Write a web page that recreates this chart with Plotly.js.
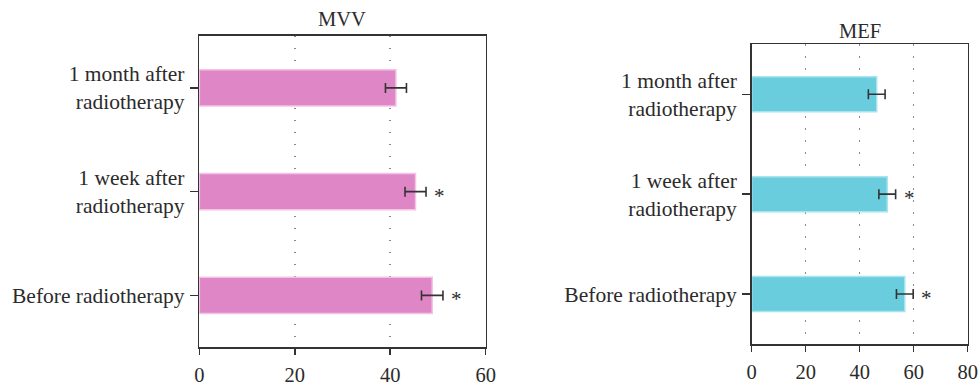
<!DOCTYPE html>
<html>
<head>
<meta charset="utf-8">
<script src="https://cdn.plot.ly/plotly-3.0.1.min.js"></script>
<style>
  html, body { margin: 0; padding: 0; background: #fff; }
  #chart { width: 979px; height: 390px; }
</style>
</head>
<body>
<div id="chart"></div>
<script>
// Time points, bottom to top
const categories = ['Before radiotherapy', '1 week after<br>radiotherapy', '1 month after<br>radiotherapy'];

// MVV panel
const mvvMean = [48.8, 45.3, 41.2];
const mvvErr  = [2.25, 2.2, 2.2];
const mvvSig  = [true, true, false];

// MEF panel
const mefMean = [56.7, 50.2, 46.3];
const mefErr  = [3.1, 3.1, 3.1];
const mefSig  = [true, true, false];

const FONT = '"Liberation Serif", "DejaVu Serif", serif';
const INK = '#2b2b2b';

function barTrace(values, errors, fill, edge, xa, ya) {
  return {
    type: 'bar', orientation: 'h',
    y: categories, x: values,
    width: 0.35,
    marker: { color: fill, line: { color: edge, width: 1.5 } },
    error_x: { type: 'data', array: errors, visible: true, color: '#333', thickness: 1.6, width: 5 },
    xaxis: xa, yaxis: ya,
    hoverinfo: 'skip', showlegend: false
  };
}

function starNotes(values, errors, sig, xa, ya) {
  const notes = [];
  values.forEach((v, i) => {
    if (!sig[i]) return;
    notes.push({
      x: v + errors[i], y: categories[i], xref: xa, yref: ya,
      text: '*', showarrow: false, xanchor: 'left', yanchor: 'middle',
      xshift: 6, yshift: -4,
      font: { family: FONT, size: 21, color: INK }
    });
  });
  return notes;
}

function xAxis(domain, anchor, range, tickvals) {
  return {
    domain: domain, anchor: anchor, range: range,
    tickvals: tickvals, ticks: 'outside', ticklen: 6, tickwidth: 1.5, tickcolor: '#333',
    ticklabelstandoff: 3,
    showline: true, linecolor: '#333', linewidth: 1.5, mirror: true,
    showgrid: true, gridcolor: '#8a8a8a', gridwidth: 1.5, griddash: '1.5px,10.5px',
    zeroline: false, fixedrange: true,
    tickfont: { family: FONT, size: 20.5, color: INK }
  };
}

function yAxis(domain, anchor) {
  return {
    domain: domain, anchor: anchor, type: 'category',
    categoryorder: 'array', categoryarray: categories,
    range: [-0.5, 2.5],
    ticks: 'outside', ticklen: 8, tickwidth: 1.5, tickcolor: '#333',
    ticklabelstandoff: 1,
    showline: true, linecolor: '#333', linewidth: 1.5, mirror: true,
    showgrid: false, zeroline: false, fixedrange: true,
    tickfont: { family: FONT, size: 21.5, color: INK }
  };
}

const data = [
  barTrace(mvvMean, mvvErr, '#DF87C6', '#F3C3E6', 'x', 'y'),
  barTrace(mefMean, mefErr, '#6ACDDE', '#A9E4EE', 'x2', 'y2')
];

const layout = {
  width: 979, height: 390,
  margin: { l: 0, r: 0, t: 0, b: 0 },
  paper_bgcolor: '#fff', plot_bgcolor: '#fff',
  bargap: 0,
  xaxis:  xAxis([0.2036, 0.4961], 'y',  [0, 60], [0, 20, 40, 60]),
  yaxis:  yAxis([0.1095, 0.9077], 'x'),
  xaxis2: xAxis([0.7678, 0.9885], 'y2', [0, 80], [0, 20, 40, 60, 80]),
  yaxis2: yAxis([0.1179, 0.8864], 'x2'),
  annotations: [
    { text: 'MVV', xref: 'paper', yref: 'paper', x: 0.3498, y: 1 - 19 / 390,
      xanchor: 'center', yanchor: 'middle', showarrow: false,
      font: { family: FONT, size: 20.5, color: INK } },
    { text: 'MEF', xref: 'paper', yref: 'paper', x: 0.8782, y: 1 - 31 / 390,
      xanchor: 'center', yanchor: 'middle', showarrow: false,
      font: { family: FONT, size: 20.5, color: INK } }
  ].concat(starNotes(mvvMean, mvvErr, mvvSig, 'x', 'y'))
   .concat(starNotes(mefMean, mefErr, mefSig, 'x2', 'y2'))
};

Plotly.newPlot('chart', data, layout, { displayModeBar: false, staticPlot: true });
</script>
</body>
</html>
